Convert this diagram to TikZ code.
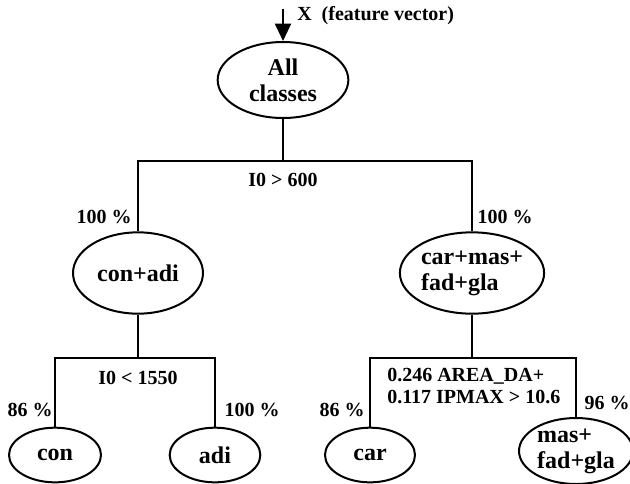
\documentclass[tikz,border=0pt]{standalone}
\usepackage{fontspec}
\setmainfont{Liberation Serif}
\usepackage{tikz}
\usetikzlibrary{arrows.meta, shapes.geometric}

\begin{document}
\begin{tikzpicture}[x=0.75pt, y=-0.75pt,
    cls/.style={ellipse, draw=black, line width=1.5pt, inner sep=0pt, align=center,
                font=\fontsize{18}{19.5}\selectfont\bfseries},
    lab/.style={inner sep=0pt, font=\fontsize{15}{16.5}\selectfont\bfseries},
    edge/.style={draw=black, line width=1.5pt},
    feed/.style={-{Triangle[length=13pt, width=12pt]}, line width=1.5pt}]

    \useasboundingbox (0,0) rectangle (630,483);

    % root
    \node[cls, minimum width=98pt, minimum height=57pt] (all) at (283,80) {All\\classes};
    \coordinate (xin) at (283,9);
    \draw[feed] (xin) -- (all.north);
    \node[lab, anchor=west] (xlab) at (297,16) {X~~(feature vector)};

    % first split
    \node[cls, minimum width=97.5pt, minimum height=61pt] (ca)   at (138,273) {con+adi};
    \node[cls, minimum width=97.5pt, minimum height=61pt, align=left] (cmfg) at (472,273) {car+mas+\\fad+gla};
    \coordinate (s1) at (283,161);
    \draw[edge] (all.south) -- (s1) -| (ca.north);
    \draw[edge] (s1) -| (cmfg.north);
    \node[lab] (t1) at (283,180) {I0 > 600};
    \node[lab] (p1) at (104,217) {100 \%};
    \node[lab] (p2) at (505,217) {100 \%};

    % left subtree
    \node[cls, minimum width=69pt, minimum height=41pt] (con) at (55,455) {con};
    \node[cls, minimum width=68pt, minimum height=41pt] (adi) at (215,455) {adi};
    \coordinate (s2) at (138,358);
    \draw[edge] (ca.south) -- (s2) -| (con.north);
    \draw[edge] (s2) -| (adi.north);
    \node[lab] (t2) at (138,378) {I0 < 1550};
    \node[lab] (p3) at (30,410) {86 \%};
    \node[lab] (p4) at (252,410) {100 \%};

    % right subtree
    \node[cls, minimum width=67.5pt, minimum height=41pt] (car) at (370,455) {car};
    \node[cls, minimum width=85.5pt, minimum height=49.5pt, align=left] (mfg) at (576,451) {mas+\\fad+gla};
    \coordinate (s3) at (472,358);
    \draw[edge] (cmfg.south) -- (s3) -| (car.north);
    \draw[edge] (s3) -| (mfg.north);
    \node[lab, anchor=west, align=left] (t3) at (387,386) {0.246 AREA\_DA+\\0.117 IPMAX > 10.6};
    \node[lab] (p5) at (342,410) {86 \%};
    \node[lab] (p6) at (607,403) {96 \%};
\end{tikzpicture}
\end{document}
